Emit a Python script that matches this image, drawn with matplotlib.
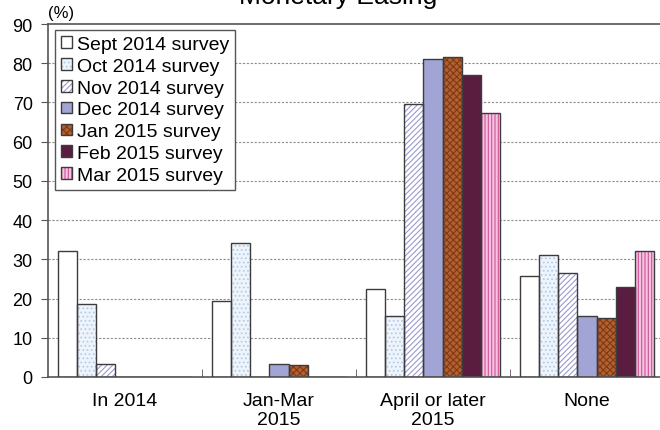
import numpy as np
import matplotlib
matplotlib.use("Agg")
import matplotlib.pyplot as plt
from matplotlib.patches import Patch
from matplotlib.legend_handler import HandlerTuple

plt.rcParams["font.family"] = ["Liberation Sans", "DejaVu Sans"]
plt.rcParams["hatch.linewidth"] = 0.8

CATEGORIES = ["In 2014", "Jan-Mar\n2015", "April or later\n2015", "None"]
SURVEYS = ["Sept 2014 survey", "Oct 2014 survey", "Nov 2014 survey",
           "Dec 2014 survey", "Jan 2015 survey", "Feb 2015 survey",
           "Mar 2015 survey"]

SEPT_2014 = [32.2, 19.3, 22.5, 25.8]
OCT_2014 = [18.6, 34.2, 15.6, 31.2]
NOV_2014 = [3.3, 0.0, 69.7, 26.6]
DEC_2014 = [0.0, 3.2, 81.0, 15.6]
JAN_2015 = [0.0, 3.0, 81.6, 15.1]
FEB_2015 = [0.0, 0.0, 77.0, 22.9]
MAR_2015 = [0.0, 0.0, 67.3, 32.2]

SERIES = [SEPT_2014, OCT_2014, NOV_2014, DEC_2014, JAN_2015, FEB_2015, MAR_2015]

# (face colour, hatch, hatch colour)
STYLES = [
    ("#FFFFFF", None, None),
    ("#EEF4FC", "....", "#B4CCEA"),
    ("#FFFFFF", "//////", "#9A9ACE"),
    ("#A2A4D6", None, None),
    ("#B4602E", "xxxxx", "#7E3A18"),
    ("#5A1D40", None, None),
    ("#F6C4E0", "|||||", "#D2529A"),
]
EDGE = "#3C3C3C"

fig = plt.figure(figsize=(6.6, 4.31), dpi=100)
ax = fig.add_axes([48 / 660, 1 - 378 / 431, 616 / 660, 353 / 431])

x = np.arange(len(CATEGORIES))
width = 0.1235
handles = []
for i, (vals, (fc, hatch, hc)) in enumerate(zip(SERIES, STYLES)):
    pos = x + (i - 3) * width
    if hatch:
        ax.bar(pos, vals, width, color=fc, hatch=hatch, edgecolor=hc,
               linewidth=0, zorder=2)
    else:
        ax.bar(pos, vals, width, color=fc, linewidth=0, zorder=2)
    ax.bar(pos, vals, width, fill=False, edgecolor=EDGE, linewidth=1.0,
           zorder=3)
    face = Patch(facecolor=fc, hatch=hatch, edgecolor=hc if hatch else fc,
                 linewidth=0)
    outline = Patch(fill=False, edgecolor=EDGE, linewidth=1.0)
    handles.append((face, outline))

ax.set_xlim(-0.5, 3.5)
ax.set_ylim(0, 90)
ax.set_yticks(np.arange(0, 91, 10))
ax.set_xticks(x)
ax.set_xticklabels(CATEGORIES, fontsize=14, linespacing=1.15)
ax.set_xticks([0.5, 1.5, 2.5], minor=True)
ax.tick_params(axis="x", which="major", length=0, pad=11)
ax.tick_params(axis="x", which="minor", direction="in", length=6,
               color="#555555")
ax.tick_params(axis="y", direction="out", length=5, labelsize=13,
               color="#555555", pad=6)

for y in range(10, 90, 10):
    ax.axhline(y, color="#8C8C8C", linestyle=(0, (2, 1.5)), linewidth=0.8,
               zorder=1)

for side in ["left", "bottom", "top", "right"]:
    ax.spines[side].set_color("#555555")
    ax.spines[side].set_linewidth(1.2)

ax.text(0.0, 1.012, "(%)", transform=ax.transAxes, ha="left", va="bottom",
        fontsize=12)

fig.text(338 / 660, 1 - 4 / 431, "Monetary Easing", ha="center",
         va="baseline", fontsize=19)

leg = ax.legend(handles, SURVEYS, handler_map={tuple: HandlerTuple(ndivide=1, pad=0)},
                loc="upper left", bbox_to_anchor=(7 / 616, 1 - 6 / 353),
                fontsize=14, frameon=True, fancybox=False, framealpha=1,
                edgecolor="#555555", handlelength=0.55, handleheight=0.55,
                handletextpad=0.3, labelspacing=0.25, borderpad=0.3,
                borderaxespad=0)
leg.get_frame().set_linewidth(1.0)
leg.set_zorder(5)

fig.savefig("out.png", dpi=100)
